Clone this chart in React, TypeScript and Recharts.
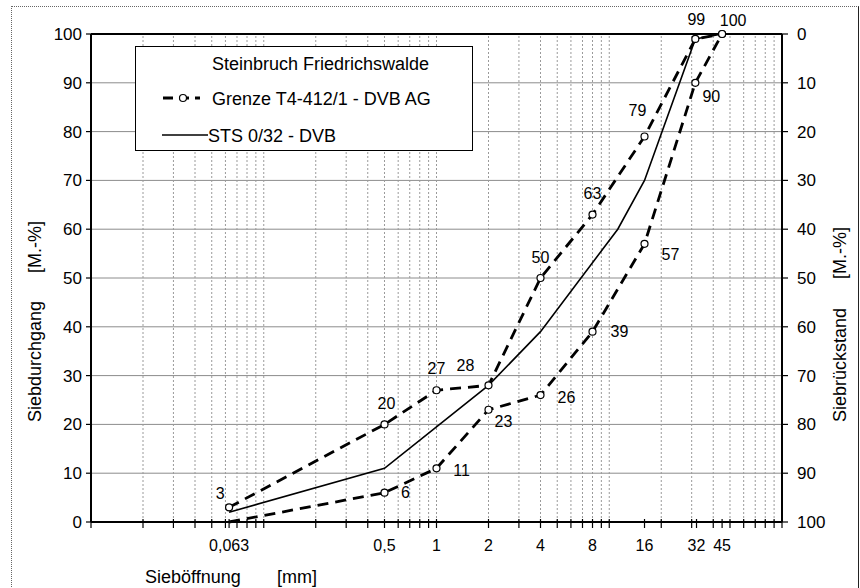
import { LineChart, Line, XAxis, YAxis, ReferenceLine, LabelList, Legend } from 'recharts';

// sieve sizes [mm] and passing [M.-%]
const sieveSizes = [0.063, 0.5, 1, 2, 4, 8, 16, 31.5, 45];
const upperLimit = [3, 20, 27, 28, 50, 63, 79, 99, 100];
const lowerLimit = [0, 6, 11, 23, 26, 39, 57, 90, 100];
const stsSizes = [0.063, 0.5, 1, 2, 4, 11.2, 16, 31.5, 45];
const stsPassing = [2, 11, 19.5, 28, 39, 60, 70, 99, 100];

const xLabelTicks = [0.063, 0.5, 1, 2, 4, 8, 16, 32, 45];
const xLabelText = ['0,063', '0,5', '1', '2', '4', '8', '16', '32', '45'];
const gridX = [
  0.02, 0.03, 0.04, 0.05, 0.06, 0.07, 0.08, 0.09,
  0.1, 0.2, 0.3, 0.4, 0.5, 0.6, 0.7, 0.8, 0.9,
  1, 2, 3, 4, 5, 6, 7, 8, 9,
  10, 20, 30, 40, 50, 60, 70, 80, 90,
];
const yTicks = [0, 10, 20, 30, 40, 50, 60, 70, 80, 90, 100];

// label offsets (dx, dy) relative to each point; null = no label
const upperLabelOffsets = [[-9, -14], [2, -21], [0, -22], [-23, -20], [0, -21], [0, -21], [-7, -26], [1, -19], [11, -14]];
const lowerLabelOffsets = [null, [21, 0], [25, 2], [15, 12], [26, 2], [27, 0], [26, 11], [16, 14], null];
const lowerDotHidden = [true, false, false, false, false, false, false, false, false];

const upperData = sieveSizes.map((s, i) => ({ size: s, passing: upperLimit[i] }));
const lowerData = sieveSizes.map((s, i) => ({ size: s, passing: lowerLimit[i] }));
const stsData = stsSizes.map((s, i) => ({ size: s, passing: stsPassing[i] }));
const xTicks = Array.from(new Set([0.01, ...gridX, 100, ...xLabelTicks])).sort((a, b) => a - b);

const FONT = '"Liberation Sans", Arial, sans-serif';

const XTick = (props: any) => {
  const { x, y, payload } = props;
  const i = xLabelTicks.indexOf(payload.value);
  return (
    <g>
      <line x1={x} x2={x} y1={y - 3} y2={y + 6} stroke="#000" strokeWidth={1.2} />
      {i >= 0 && (
        <text x={x} y={y + 29} textAnchor="middle" fontSize={16} fontFamily={FONT} fill="#000">
          {xLabelText[i]}
        </text>
      )}
    </g>
  );
};

const LeftTick = (props: any) => {
  const { x, y, payload } = props;
  return (
    <g>
      <line x1={x - 5} x2={x} y1={y} y2={y} stroke="#000" strokeWidth={1.2} />
      <text x={x - 9} y={y + 6} textAnchor="end" fontSize={17} fontFamily={FONT} fill="#000">
        {payload.value}
      </text>
    </g>
  );
};

const RightTick = (props: any) => {
  const { x, y, payload } = props;
  return (
    <g>
      <line x1={x} x2={x + 6} y1={y} y2={y} stroke="#000" strokeWidth={1.2} />
      <text x={x + 15} y={y + 6} textAnchor="start" fontSize={17} fontFamily={FONT} fill="#000">
        {payload.value}
      </text>
    </g>
  );
};

const makeLabel = (offsets: any[]) => (props: any) => {
  const { x, y, value, index } = props;
  const off = offsets[index];
  if (!off) return null;
  return (
    <text x={x + off[0]} y={y + off[1]} textAnchor="middle" dominantBaseline="central"
      fontSize={16} fontFamily={FONT} fill="#000">
      {value}
    </text>
  );
};

const makeDot = (hidden: boolean[]) => (props: any) => {
  const { cx, cy, index } = props;
  if (hidden[index]) return <g key={index} />;
  return <circle key={index} cx={cx} cy={cy} r={3.5} fill="#fff" stroke="#000" strokeWidth={1.2} />;
};

const LegendBox = () => (
  <div style={{ width: 338, height: 105, background: '#fff', border: '1.5px solid #000', boxSizing: 'border-box' }}>
    <svg width={335} height={102} style={{ display: 'block' }}>
      <text x={76} y={23} fontSize={18} fontFamily={FONT} fill="#000">Steinbruch Friedrichswalde</text>
      <line x1={27} x2={64} y1={51} y2={51} stroke="#000" strokeWidth={2.8} strokeDasharray="10 6" />
      <circle cx={47} cy={51} r={3.5} fill="#fff" stroke="#000" strokeWidth={1.2} />
      <text x={76} y={58} fontSize={18} fontFamily={FONT} fill="#000">Grenze T4-412/1 - DVB AG</text>
      <line x1={26} x2={72} y1={88} y2={88} stroke="#000" strokeWidth={1.6} />
      <text x={72} y={95} fontSize={18} fontFamily={FONT} fill="#000">STS 0/32 - DVB</text>
    </svg>
  </div>
);

const AxisTitles = () => (
  <g fontFamily={FONT} fontSize={18} fill="#000">
    <text transform="translate(41,422) rotate(-90)" textAnchor="start">Siebdurchgang</text>
    <text transform="translate(41,221) rotate(-90)" textAnchor="end">[M.-%]</text>
    <text transform="translate(846,422) rotate(-90)" textAnchor="start">Siebrückstand</text>
    <text transform="translate(846,227) rotate(-90)" textAnchor="end">[M.-%]</text>
    <text x={145} y={583}>Sieböffnung</text>
    <text x={277} y={583}>[mm]</text>
  </g>
);

export default function App() {
  return (
    <div style={{ position: 'absolute', left: 0, top: 0, width: 860, height: 588, background: '#fff', overflow: 'hidden' }}>
      <div style={{ position: 'absolute', left: 11, top: 6, width: 846, height: 620, borderLeft: '1px dotted #666', borderTop: '1px dotted #666', borderRight: '1.5px solid #222' }} />
      <LineChart width={860} height={588} margin={{ top: 34, right: 0, bottom: 0, left: 0 }}>
        <XAxis
          dataKey="size"
          type="number"
          scale="log"
          domain={[0.01, 100]}
          allowDataOverflow
          ticks={xTicks}
          interval={0}
          height={66}
          tickSize={0}
          tickMargin={0}
          tickLine={false}
          tick={<XTick />}
          axisLine={{ stroke: '#000', strokeWidth: 2 }}
        />
        <YAxis
          yAxisId="left"
          type="number"
          domain={[0, 100]}
          ticks={yTicks}
          interval={0}
          width={91}
          tickSize={0}
          tickMargin={0}
          tickLine={false}
          tick={<LeftTick />}
          axisLine={{ stroke: '#000', strokeWidth: 2 }}
        />
        <YAxis
          yAxisId="right"
          type="number"
          orientation="right"
          reversed
          domain={[0, 100]}
          allowDataOverflow
          ticks={yTicks}
          interval={0}
          width={78}
          tickSize={0}
          tickMargin={0}
          tickLine={false}
          tick={<RightTick />}
          axisLine={{ stroke: '#000', strokeWidth: 2 }}
        />
        {yTicks.slice(1, -1).map((v) => (
          <ReferenceLine key={'h' + v} yAxisId="right" y={v} stroke="#8c8c8c" strokeWidth={1} />
        ))}
        {gridX.map((v) => (
          <ReferenceLine key={'v' + v} yAxisId="left" x={v} stroke="#9a9a9a" strokeWidth={1} strokeDasharray="2 2" />
        ))}
        <ReferenceLine yAxisId="right" y={0} stroke="#000" strokeWidth={2} />
        <Line
          yAxisId="left"
          data={stsData}
          dataKey="passing"
          type="linear"
          stroke="#000"
          strokeWidth={1.6}
          dot={false}
          isAnimationActive={false}
        />
        <Line
          yAxisId="left"
          data={upperData}
          dataKey="passing"
          type="linear"
          stroke="#000"
          strokeWidth={2.8}
          strokeDasharray="11 7"
          dot={makeDot([])}
          isAnimationActive={false}
        >
          <LabelList dataKey="passing" content={makeLabel(upperLabelOffsets)} />
        </Line>
        <Line
          yAxisId="left"
          data={lowerData}
          dataKey="passing"
          type="linear"
          stroke="#000"
          strokeWidth={2.8}
          strokeDasharray="11 7"
          dot={makeDot(lowerDotHidden)}
          isAnimationActive={false}
        >
          <LabelList dataKey="passing" content={makeLabel(lowerLabelOffsets)} />
        </Line>
        <Legend
          layout="horizontal"
          verticalAlign="middle"
          align="center"
          content={<LegendBox />}
          wrapperStyle={{ left: 135, top: 46, width: 338, height: 105 }}
        />
        <AxisTitles />
      </LineChart>
    </div>
  );
}
